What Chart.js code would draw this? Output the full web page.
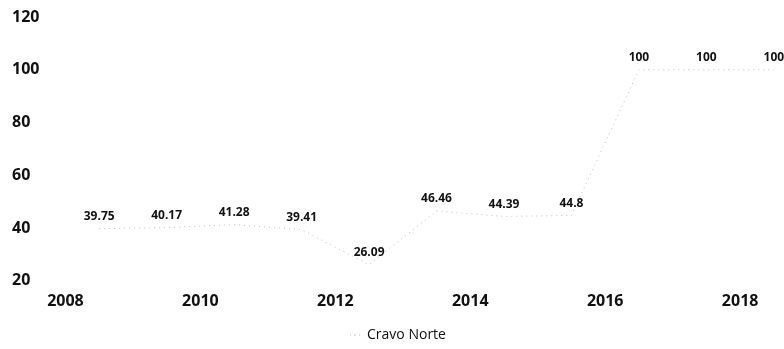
<!DOCTYPE html>
<html>
<head>
<meta charset="utf-8">
<script src="https://cdn.jsdelivr.net/npm/chart.js@4/dist/chart.umd.min.js"></script>
<style>
  html, body { margin: 0; padding: 0; background: #fff; }
  .canvas-container { width: 784px; height: 349px; }
</style>
</head>
<body>
<div class="canvas-container"><canvas id="myChart1"></canvas></div>
<script>
// Dados (pontos no meio de cada ano)
const anos = [2008.5, 2009.5, 2010.5, 2011.5, 2012.5, 2013.5, 2014.5, 2015.5, 2016.5, 2017.5, 2018.5];
const valores = [39.75, 40.17, 41.28, 39.41, 26.09, 46.46, 44.39, 44.8, 100, 100, 100];
const serieNome = 'Cravo Norte';
const anosTicks = [2008, 2010, 2012, 2014, 2016, 2018];
const valoresTicks = [20, 40, 60, 80, 100, 120];

const pontos = anos.map((ano, i) => ({ x: ano, y: valores[i] }));

// Rótulos dos valores acima de cada ponto
const rotulosPlugin = {
    id: 'rotulos',
    afterDatasetsDraw(chart) {
        const ctx = chart.ctx;
        const meta = chart.getDatasetMeta(0);
        ctx.save();
        ctx.fillStyle = '#111';
        ctx.font = 'bold 12px "Open Sans", sans-serif';
        ctx.textAlign = 'center';
        ctx.textBaseline = 'middle';
        meta.data.forEach((pt, i) => {
            ctx.fillText(String(valores[i]), pt.x, pt.y - 12);
        });
        ctx.restore();
    }
};

const ctx = document.getElementById('myChart1').getContext('2d');
new Chart(ctx, {
    type: 'line',
    data: {
        datasets: [
            {
                label: serieNome,
                data: pontos,
                borderColor: 'rgba(175,175,175,0.8)',
                backgroundColor: 'rgba(175,175,175,0.8)',
                borderWidth: 1,
                borderDash: [1, 4],
                pointRadius: 0,
                tension: 0
            }
        ]
    },
    options: {
        responsive: true,
        maintainAspectRatio: false,
        animation: false,
        layout: {
            padding: { left: 12, right: 0, top: 0, bottom: -3 }
        },
        scales: {
            x: {
                type: 'linear',
                min: 2008,
                max: 2018.65,
                afterBuildTicks: axis => {
                    axis.ticks = anosTicks.map(v => ({ value: v }));
                },
                ticks: {
                    color: '#111',
                    padding: 11,
                    font: { family: '"Open Sans", sans-serif', size: 16, weight: 'bold' },
                    callback: v => String(v)
                },
                grid: { display: false, drawTicks: false },
                border: { display: false }
            },
            y: {
                min: 20,
                max: 120,
                afterBuildTicks: axis => {
                    axis.ticks = valoresTicks.map(v => ({ value: v }));
                },
                ticks: {
                    color: '#111',
                    crossAlign: 'far',
                    padding: 13,
                    font: { family: '"Open Sans", sans-serif', size: 16, weight: 'bold', lineHeight: 0.5 }
                },
                grid: { display: false, drawTicks: false },
                border: { display: false }
            }
        },
        plugins: {
            legend: {
                position: 'bottom',
                labels: {
                    color: '#111',
                    boxWidth: 10,
                    boxHeight: 0,
                    padding: 6,
                    font: { family: '"Open Sans", sans-serif', size: 14 }
                }
            },
            tooltip: { enabled: false }
        }
    },
    plugins: [rotulosPlugin]
});
</script>
</body>
</html>
